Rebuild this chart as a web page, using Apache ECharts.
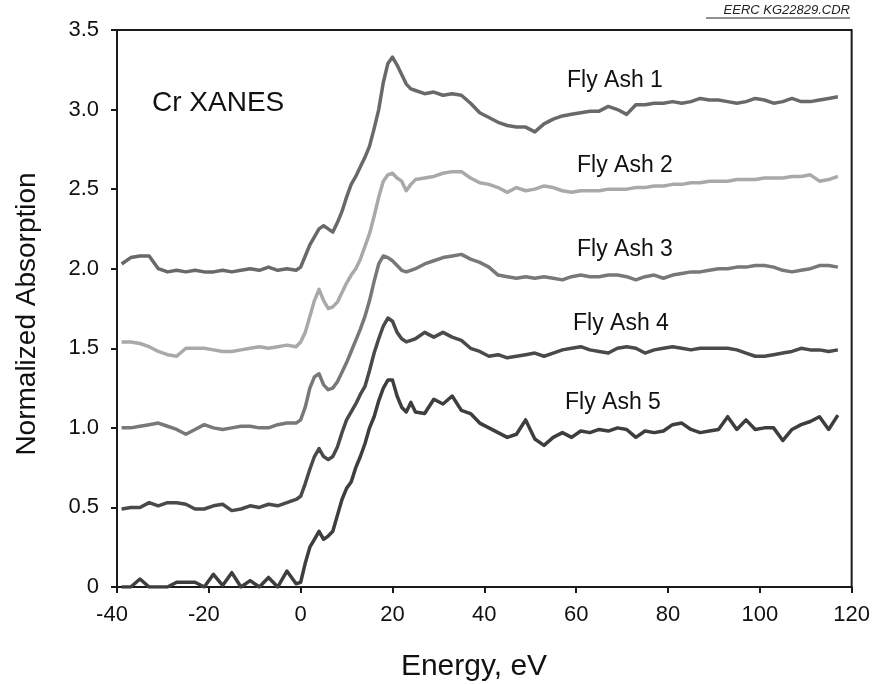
<!DOCTYPE html>
<html>
<head>
<meta charset="utf-8">
<script src="https://cdn.jsdelivr.net/npm/echarts@6/dist/echarts.min.js"></script>
<style>
html, body { margin: 0; padding: 0; background: #fff; }
#main { width: 873px; height: 684px; }
</style>
</head>
<body>
<div id="main"></div>
<script>
// energy grid (eV) shared by all curves
var energy = [
	-39, -37, -35, -33, -31, -29, -27, -25, -23, -21, -19, -17, -15, -13, -11, -9, -7, -5, -3, -1,
	0, 1, 2, 3, 4, 5, 6, 7, 8, 9, 10, 11, 12, 13, 14, 15, 16, 17, 18, 19, 20, 21, 22, 23, 24, 25,
	27, 29, 31, 33, 35, 37, 39, 41, 43, 45, 47, 49, 51, 53, 55, 57, 59, 61, 63, 65, 67, 69, 71,
	73, 75, 77, 79, 81, 83, 85, 87, 89, 91, 93, 95, 97, 99, 101, 103, 105, 107, 109, 111, 113, 115, 117
];

var flyAsh1 = [
	2.03, 2.07, 2.08, 2.08, 2.00, 1.98, 1.99, 1.98, 1.99, 1.98, 1.98, 1.99, 1.98, 1.99, 2.00, 1.99, 2.01, 1.99, 2.00, 1.99,
	2.01, 2.08, 2.15, 2.20, 2.25, 2.27, 2.25, 2.23, 2.29, 2.36, 2.45, 2.53, 2.58, 2.64, 2.70, 2.77, 2.88, 3.00, 3.17, 3.29, 3.33, 3.28, 3.22, 3.16, 3.13, 3.12,
	3.10, 3.11, 3.09, 3.10, 3.09, 3.04, 2.98, 2.95, 2.92, 2.90, 2.89, 2.89, 2.86, 2.91, 2.94, 2.96, 2.97, 2.98, 2.99, 2.99, 3.02, 3.00, 2.97,
	3.03, 3.03, 3.04, 3.04, 3.05, 3.04, 3.05, 3.07, 3.06, 3.06, 3.05, 3.04, 3.05, 3.07, 3.06, 3.04, 3.05, 3.07, 3.05, 3.05, 3.06, 3.07, 3.08
];

var flyAsh2 = [
	1.54, 1.54, 1.53, 1.51, 1.48, 1.46, 1.45, 1.50, 1.50, 1.50, 1.49, 1.48, 1.48, 1.49, 1.50, 1.51, 1.50, 1.51, 1.52, 1.51,
	1.54, 1.60, 1.70, 1.80, 1.87, 1.80, 1.75, 1.76, 1.79, 1.85, 1.91, 1.96, 2.00, 2.06, 2.14, 2.22, 2.33, 2.45, 2.55, 2.59, 2.60, 2.57, 2.55, 2.49, 2.53, 2.56,
	2.57, 2.58, 2.60, 2.61, 2.61, 2.57, 2.54, 2.53, 2.51, 2.48, 2.51, 2.49, 2.50, 2.52, 2.51, 2.49, 2.48, 2.49, 2.49, 2.49, 2.50, 2.50, 2.50,
	2.51, 2.51, 2.52, 2.52, 2.53, 2.53, 2.54, 2.54, 2.55, 2.55, 2.55, 2.56, 2.56, 2.56, 2.57, 2.57, 2.57, 2.58, 2.58, 2.59, 2.55, 2.56, 2.58
];

var flyAsh3 = [
	1.00, 1.00, 1.01, 1.02, 1.03, 1.01, 0.99, 0.96, 0.99, 1.02, 1.00, 0.99, 1.00, 1.01, 1.01, 1.00, 1.00, 1.02, 1.03, 1.03,
	1.05, 1.13, 1.25, 1.32, 1.34, 1.27, 1.24, 1.25, 1.29, 1.35, 1.41, 1.48, 1.55, 1.62, 1.70, 1.80, 1.92, 2.03, 2.08, 2.07, 2.05, 2.02, 1.99, 1.98, 1.99, 2.00,
	2.03, 2.05, 2.07, 2.08, 2.09, 2.06, 2.04, 2.01, 1.96, 1.95, 1.94, 1.95, 1.94, 1.95, 1.94, 1.93, 1.95, 1.96, 1.95, 1.95, 1.96, 1.96, 1.95,
	1.93, 1.95, 1.96, 1.94, 1.96, 1.97, 1.98, 1.98, 1.99, 2.00, 2.00, 2.01, 2.01, 2.02, 2.02, 2.01, 1.99, 1.98, 1.99, 2.00, 2.02, 2.02, 2.01
];

var flyAsh4 = [
	0.49, 0.50, 0.50, 0.53, 0.51, 0.53, 0.53, 0.52, 0.49, 0.49, 0.51, 0.52, 0.48, 0.49, 0.51, 0.50, 0.52, 0.51, 0.53, 0.55,
	0.57, 0.65, 0.74, 0.82, 0.87, 0.82, 0.80, 0.82, 0.88, 0.97, 1.05, 1.10, 1.15, 1.21, 1.26, 1.36, 1.47, 1.56, 1.64, 1.69, 1.67, 1.60, 1.56, 1.54, 1.55, 1.56,
	1.60, 1.57, 1.60, 1.57, 1.55, 1.50, 1.48, 1.45, 1.46, 1.44, 1.45, 1.46, 1.47, 1.45, 1.47, 1.49, 1.50, 1.51, 1.49, 1.48, 1.47, 1.50, 1.51,
	1.50, 1.47, 1.49, 1.50, 1.51, 1.50, 1.49, 1.50, 1.50, 1.50, 1.50, 1.49, 1.47, 1.45, 1.45, 1.46, 1.47, 1.48, 1.50, 1.49, 1.49, 1.48, 1.49
];

var flyAsh5 = [
	0.00, 0.00, 0.05, 0.00, 0.00, 0.00, 0.03, 0.03, 0.03, 0.00, 0.08, 0.01, 0.09, 0.00, 0.04, 0.00, 0.06, 0.00, 0.10, 0.02,
	0.03, 0.15, 0.25, 0.30, 0.35, 0.30, 0.32, 0.35, 0.45, 0.55, 0.62, 0.66, 0.75, 0.82, 0.90, 1.00, 1.07, 1.17, 1.25, 1.30, 1.30, 1.20, 1.13, 1.10, 1.16, 1.10,
	1.09, 1.18, 1.15, 1.20, 1.11, 1.09, 1.03, 1.00, 0.97, 0.94, 0.96, 1.05, 0.93, 0.89, 0.94, 0.97, 0.94, 0.98, 0.97, 0.99, 0.98, 1.00, 0.99,
	0.94, 0.98, 0.97, 0.98, 1.02, 1.03, 0.99, 0.97, 0.98, 0.99, 1.07, 0.99, 1.05, 0.99, 1.00, 1.00, 0.92, 0.99, 1.02, 1.04, 1.07, 0.99, 1.08
];

var seriesNames = ['Fly Ash 1', 'Fly Ash 2', 'Fly Ash 3', 'Fly Ash 4', 'Fly Ash 5'];
var seriesValues = [flyAsh1, flyAsh2, flyAsh3, flyAsh4, flyAsh5];
var seriesColors = ['#696969', '#a9a9a9', '#787878', '#4a4a4a', '#3e3e3e'];

var FONT = '"Liberation Sans", Arial, Helvetica, sans-serif';

function pairs(vals) {
	var out = [];
	for (var i = 0; i < energy.length; i++) {
		out.push([energy[i], vals[i]]);
	}
	return out;
}

var series = [];
for (var s = 0; s < seriesNames.length; s++) {
	series.push({
		name: seriesNames[s],
		type: 'line',
		data: pairs(seriesValues[s]),
		showSymbol: false,
		lineStyle: { color: seriesColors[s], width: 3.5, join: 'round' },
		silent: true,
		animation: false
	});
}

// labels next to the curves
var curveLabels = [
	{ text: 'Fly Ash 1', x: 567, y: 81 },
	{ text: 'Fly Ash 2', x: 577, y: 166 },
	{ text: 'Fly Ash 3', x: 577, y: 250 },
	{ text: 'Fly Ash 4', x: 573, y: 324 },
	{ text: 'Fly Ash 5', x: 565, y: 403 }
];

var graphics = [];
curveLabels.forEach(function (l) {
	graphics.push({
		type: 'text', x: l.x, y: l.y,
		style: { text: l.text, font: '23px ' + FONT, fill: '#111', textAlign: 'left', textVerticalAlign: 'middle' }
	});
});
graphics.push({
	type: 'text', x: 152, y: 103,
	style: { text: 'Cr XANES', font: '28px ' + FONT, fill: '#111', textAlign: 'left', textVerticalAlign: 'middle' }
});
graphics.push({
	type: 'text', x: 850, y: 10,
	style: { text: 'EERC KG22829.CDR', font: 'italic 13px ' + FONT, fill: '#222', textAlign: 'right', textVerticalAlign: 'middle' }
});
graphics.push({
	type: 'line', shape: { x1: 706, y1: 18, x2: 850, y2: 18 },
	style: { stroke: '#222', lineWidth: 1 }
});
graphics.push({
	type: 'text', x: 27, y: 314, rotation: Math.PI / 2,
	style: { text: 'Normalized Absorption', font: '28px ' + FONT, fill: '#111', textAlign: 'center', textVerticalAlign: 'middle' }
});
graphics.push({
	type: 'text', x: 474, y: 667,
	style: { text: 'Energy, eV', font: '30px ' + FONT, fill: '#111', textAlign: 'center', textVerticalAlign: 'middle' }
});

var myChart = echarts.init(document.getElementById('main'));

var option = {
	animation: false,
	backgroundColor: '#fff',
	grid: {
		left: 117, right: 21, top: 30, bottom: 97,
		show: true, borderColor: '#1a1a1a', borderWidth: 2
	},
	xAxis: {
		type: 'value', min: -40, max: 120, interval: 20,
		axisLine: { onZero: false, lineStyle: { color: '#1a1a1a', width: 2 } },
		axisTick: { show: true, length: 6, lineStyle: { color: '#1a1a1a', width: 2 } },
		axisLabel: {
			color: '#111', fontSize: 22, fontFamily: FONT, margin: 17,
			// negative labels hang a bit to the left of their tick
			formatter: function (v) { return v < 0 ? '{n|' + v + '}' : String(v); },
			rich: { n: { fontSize: 22, fontFamily: FONT, color: '#111', padding: [0, 10, 0, 0] } }
		},
		splitLine: { show: false }
	},
	yAxis: {
		type: 'value', min: 0, max: 3.5, interval: 0.5,
		axisLine: { show: true, onZero: false, lineStyle: { color: '#1a1a1a', width: 2 } },
		axisTick: { show: true, length: 6, lineStyle: { color: '#1a1a1a', width: 2 } },
		axisLabel: {
			color: '#111', fontSize: 22, fontFamily: FONT, margin: 18,
			formatter: function (v) { return v === 0 ? '0' : v.toFixed(1); }
		},
		splitLine: { show: false }
	},
	series: series,
	graphic: graphics
};

myChart.setOption(option);
</script>
</body>
</html>
